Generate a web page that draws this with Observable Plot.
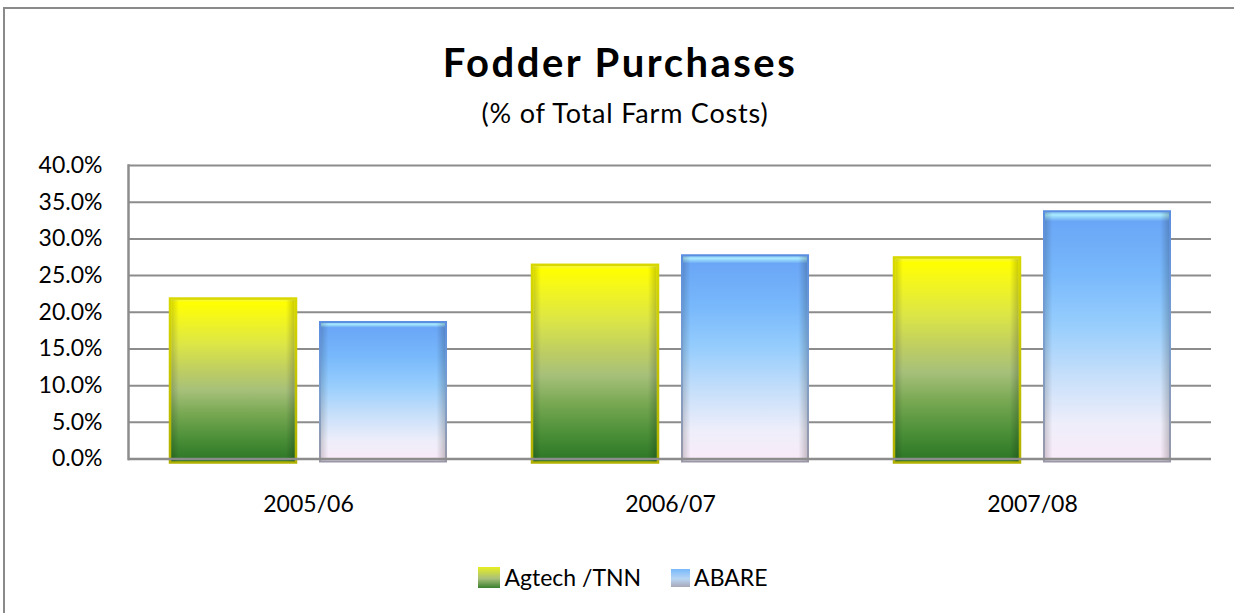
<!DOCTYPE html>
<html><head><meta charset="utf-8">
<script src="https://cdn.jsdelivr.net/npm/d3@7"></script>
<script src="https://cdn.jsdelivr.net/npm/@observablehq/plot@0.6"></script>
<style>
html,body{margin:0;padding:0;background:#fff;}
#page{position:relative;width:1234px;height:613px;overflow:hidden;font-family:Lato,sans-serif;color:#000;}
#frame{position:absolute;left:3px;top:7px;width:1300px;height:700px;border-left:2.5px solid #8a8a8a;border-top:2.5px solid #8a8a8a;}
#title{position:absolute;left:3px;width:1234px;top:42px;text-align:center;font-weight:700;font-size:40px;letter-spacing:2.5px;line-height:1;}
#subtitle{position:absolute;left:8px;width:1234px;top:99px;text-align:center;font-size:27px;letter-spacing:0.8px;line-height:1;}
#chart{position:absolute;left:0;top:140px;}
#legend{position:absolute;left:6px;width:1234px;top:566px;display:flex;justify-content:center;gap:30px;font-size:23px;line-height:1;}
.item{display:flex;align-items:center;gap:4px;}
.sw{width:20px;height:20px;display:inline-block;}
</style></head>
<body><div id="page">
<div id="frame"></div>
<div id="title">Fodder Purchases</div>
<div id="subtitle">(% of Total Farm Costs)</div>
<div id="chart"></div>
<div id="legend"></div>
</div>
<script>
const years = ["2005/06", "2006/07", "2007/08"];
const agtech = [21.8, 26.4, 27.4];
const abare = [18.6, 27.7, 33.7];
const seriesNames = ["Agtech /TNN", "ABARE"];
const yTicks = [0, 5, 10, 15, 20, 25, 30, 35, 40];

const agRows = years.map((y, i) => ({year: y, value: agtech[i], series: seriesNames[0]}));
const abRows = years.map((y, i) => ({year: y, value: abare[i], series: seriesNames[1]}));

const svg = Plot.plot({
  width: 1234,
  height: 400,
  marginTop: 25,
  marginBottom: 81.5,
  marginLeft: 128,
  marginRight: 23,
  style: {fontFamily: "Lato, sans-serif", fontSize: "23px", color: "#000", background: "transparent", overflow: "visible"},
  x: {domain: years, paddingInner: 0.238, paddingOuter: 0.113, label: null, tickSize: 0, tickPadding: 37},
  y: {domain: [0, 40], ticks: yTicks, tickFormat: d => d.toFixed(1) + "%", label: null, tickSize: 0, tickPadding: 26},
  marks: [
    Plot.ruleY(yTicks.slice(1), {stroke: "#8c8c8c", strokeWidth: 2}),
    Plot.barY(agRows, {x: "year", y: "value", insetRight: 150, insetBottom: -4, fill: "url(#agFill)", stroke: "url(#agStroke)", strokeWidth: 2.5}),
    Plot.barY(agRows, {x: "year", y: "value", insetRight: 151.5, insetLeft: 1.5, insetTop: 1.5, insetBottom: -3, fill: "url(#bevelH)"}),
    Plot.barY(abRows, {x: "year", y: "value", insetLeft: 150, insetBottom: -3, fill: "url(#abFill)", stroke: "url(#abStroke)", strokeWidth: 2}),
    Plot.barY(abRows, {x: "year", y: "value", insetLeft: 151, insetRight: 1, insetTop: 1, insetBottom: -2, fill: "url(#bevelH)"}),
    Plot.ruleY([0], {stroke: "#8c8c8c", strokeWidth: 2.5}),
    Plot.frame({anchor: "left", stroke: "#8c8c8c", strokeWidth: 2.5})
  ]
});

const defs = d3.select(svg).insert("defs", ":first-child");
function grad(id, stops, horizontal) {
  const g = defs.append("linearGradient").attr("id", id)
    .attr("x1", 0).attr("y1", 0).attr("x2", horizontal ? 1 : 0).attr("y2", horizontal ? 0 : 1);
  stops.forEach(([o, c, a]) => g.append("stop").attr("offset", o).attr("stop-color", c).attr("stop-opacity", a == null ? 1 : a));
}
grad("agFill", [[0, "#f4f450"], [0.025, "#ffff00"], [0.1, "#f6f818"], [0.28, "#dce646"], [0.45, "#bccc64"], [0.56, "#a6c07a"], [0.7, "#78a852"], [0.85, "#4c9038"], [1, "#2a7424"]]);
grad("agStroke", [[0, "#d8d800"], [1, "#b0b000"]]);
grad("abFill", [[0, "#7ab2f0"], [0.015, "#a8ecff"], [0.04, "#6aa6f6"], [0.25, "#78b8fb"], [0.45, "#96cdfd"], [0.65, "#c4defa"], [0.85, "#eeeefa"], [1, "#faeaf8"]]);
grad("abStroke", [[0, "#5a8ee0"], [0.5, "#7aa0d0"], [1, "#9a98a8"]]);
grad("bevelH", [[0, "#000", 0.16], [0.06, "#000", 0], [0.93, "#000", 0], [1, "#000", 0.2]], true);

document.getElementById("chart").appendChild(svg);

const swatchCss = [
  "linear-gradient(to bottom, #e8ee20, #a8c07a 55%, #3a8030)",
  "linear-gradient(to bottom, #78b8fb, #b8d6f4 55%, #a8a8b8)"
];
const legend = document.getElementById("legend");
seriesNames.forEach((n, i) => {
  const it = document.createElement("div");
  it.className = "item";
  const sw = document.createElement("span");
  sw.className = "sw";
  sw.style.background = swatchCss[i];
  if (i === 0) { sw.style.width = "22px"; sw.style.height = "21px"; } else { sw.style.width = "19px"; sw.style.height = "18px"; }
  const t = document.createElement("span");
  t.textContent = n;
  it.appendChild(sw); it.appendChild(t);
  legend.appendChild(it);
});
</script>
</body></html>
